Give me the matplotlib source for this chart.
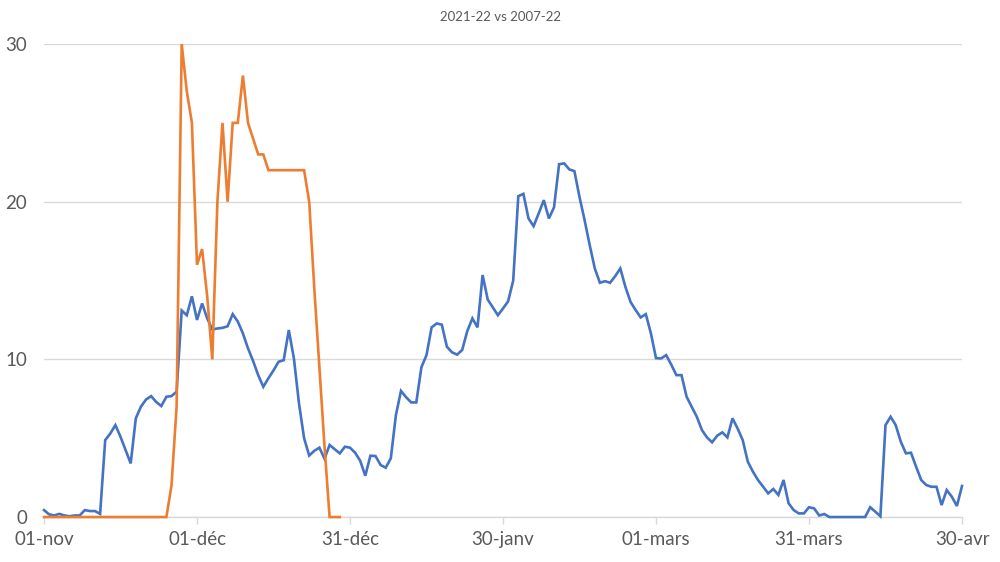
import numpy as np
import matplotlib
matplotlib.use("Agg")
import matplotlib.pyplot as plt

title = "2021-22 vs 2007-22"
tick_days = [0, 30, 60, 90, 120, 150, 180]
tick_labels = ["01-nov", "01-déc", "31-déc", "30-janv", "01-mars", "31-mars", "30-avr"]

# 2007-22 (blue), daily values from 01-nov to 30-avr
series_blue = [
    0.44, 0.17, 0.1, 0.2, 0.1, 0.05, 0.1, 0.1, 0.44, 0.38,
    0.38, 0.2, 4.88, 5.3, 5.83, 5.09, 4.25, 3.4, 6.26, 7.0,
    7.45, 7.67, 7.3, 7.04, 7.63, 7.67, 7.95, 13.1, 12.8, 14.0,
    12.5, 13.55, 12.6, 11.9, 11.96, 12.0, 12.1, 12.87, 12.4, 11.65,
    10.7, 9.9, 9.0, 8.26, 8.8, 9.3, 9.85, 9.95, 11.86, 10.06,
    7.2, 5.0, 3.9, 4.2, 4.4, 3.7, 4.57, 4.3, 4.04, 4.46,
    4.4, 4.08, 3.57, 2.62, 3.89, 3.87, 3.3, 3.13, 3.72, 6.47,
    8.0, 7.6, 7.27, 7.27, 9.5, 10.27, 12.03, 12.28, 12.2, 10.8,
    10.45, 10.3, 10.6, 11.8, 12.6, 12.03, 15.35, 13.8, 13.3, 12.8,
    13.23, 13.68, 15.0, 20.35, 20.5, 18.94, 18.45, 19.26, 20.1, 18.94,
    19.64, 22.38, 22.43, 22.05, 21.94, 20.3, 18.83, 17.25, 15.77, 14.86,
    14.96, 14.86, 15.28, 15.77, 14.6, 13.65, 13.13, 12.66, 12.87, 11.65,
    10.08, 10.06, 10.27, 9.66, 9.0, 9.0, 7.63, 7.0, 6.36, 5.52,
    5.05, 4.74, 5.16, 5.37, 5.05, 6.26, 5.62, 4.88, 3.51, 2.88,
    2.35, 1.92, 1.5, 1.78, 1.4, 2.35, 0.87, 0.44, 0.23, 0.23,
    0.62, 0.55, 0.1, 0.19, 0, 0, 0, 0, 0, 0,
    0, 0, 0.62, 0.34, 0.05, 5.83, 6.36, 5.83, 4.78, 4.04,
    4.08, 3.19, 2.35, 2.03, 1.92, 1.92, 0.76, 1.71, 1.29, 0.7,
    1.97,
]

# 2021-22 (orange), daily values from 01-nov until end of data
series_orange = [
    0, 0, 0, 0, 0, 0, 0, 0, 0, 0,
    0, 0, 0, 0, 0, 0, 0, 0, 0, 0,
    0, 0, 0, 0, 0, 2, 7, 30, 27, 25,
    16, 17, 14, 10, 20, 25, 20, 25, 25, 28,
    25, 24, 23, 23, 22, 22, 22, 22, 22, 22,
    22, 22, 20, 14.5, 9.5, 4.5, 0, 0, 0,
]

plt.rcParams['font.family'] = ['Lato', 'DejaVu Sans']

fig = plt.figure(figsize=(10, 5.62), dpi=100)
ax = fig.add_axes([0.044, 0.080, 0.918, 0.8416])

xb = np.arange(len(series_blue))
xo = np.arange(len(series_orange))
ax.plot(xb, series_blue, color="#4472C4", lw=1.9, clip_on=False, zorder=3,
        solid_joinstyle="miter")
ax.plot(xo, series_orange, color="#ED7D31", lw=1.9, clip_on=False, zorder=4,
        solid_joinstyle="miter")

ax.set_xlim(0, 180)
ax.set_ylim(0, 30)
ax.set_yticks([0, 10, 20, 30])
ax.set_yticklabels(["0", "10", "20", "30"])
ax.set_xticks(tick_days)
ax.set_xticklabels(tick_labels)

ax.grid(axis="y", color="#D9D9D9", lw=1.0)
ax.set_axisbelow(True)
for s in ["top", "right", "left"]:
    ax.spines[s].set_visible(False)
ax.spines["bottom"].set_color("#D9D9D9")
ax.spines["bottom"].set_linewidth(1.0)

ax.tick_params(axis="y", length=0, pad=12, labelsize=13.5, labelcolor="#595959")
ax.tick_params(axis="x", length=5, width=1, color="#D9D9D9", pad=5,
               labelsize=13.5, labelcolor="#595959")

fig.text(0.5, 0.97, title, ha="center", va="center", fontsize=9.5, color="#595959")

fig.savefig("out.png", dpi=100)
